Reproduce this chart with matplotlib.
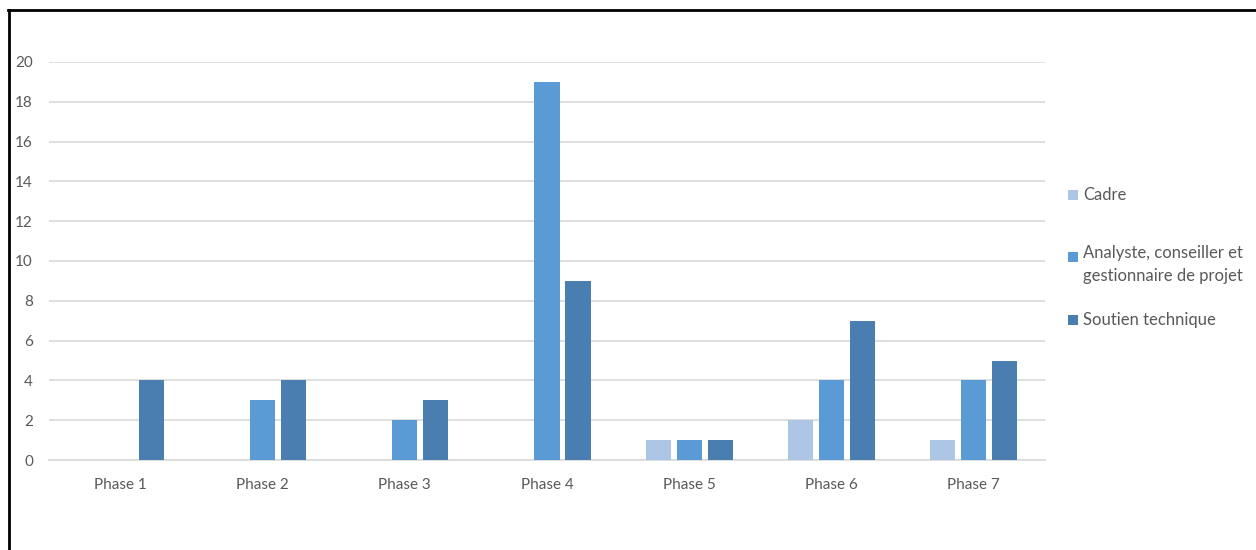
import matplotlib
matplotlib.use("Agg")
import matplotlib.pyplot as plt
from matplotlib.lines import Line2D
from matplotlib.patches import Rectangle
import numpy as np

phases = ["Phase 1", "Phase 2", "Phase 3", "Phase 4", "Phase 5", "Phase 6", "Phase 7"]
cadre = [0, 0, 0, 0, 1, 2, 1]
analyste = [0, 3, 2, 19, 1, 4, 4]
soutien = [4, 4, 3, 9, 1, 7, 5]
series_labels = ["Cadre", "Analyste, conseiller et\ngestionnaire de projet", "Soutien technique"]
yticks = [0, 2, 4, 6, 8, 10, 12, 14, 16, 18, 20]

colors = ["#ADC6E6", "#5B9BD5", "#4A7EB0"]
text_color = "#595959"
grid_color = "#D9D9D9"

plt.rcParams["font.family"] = ["Lato", "DejaVu Sans"]

W, H = 1256, 550
fig = plt.figure(figsize=(W / 100, H / 100), dpi=100)
ax = fig.add_axes([49 / W, 1 - 460 / H, (1045 - 49) / W, (460 - 62) / H])

x = np.arange(len(phases))
bw = 0.176
step = 0.218
for i, (vals, col, lab) in enumerate(zip([cadre, analyste, soutien], colors, series_labels)):
    ax.bar(x + (i - 1) * step, vals, width=bw, color=col, edgecolor="none",
           label=lab, zorder=3)

ax.set_xlim(-0.5, len(phases) - 0.5)
ax.set_ylim(0, 20)
ax.set_yticks(yticks)
ax.set_xticks(x)
ax.set_xticklabels(phases)
ax.yaxis.grid(True, color=grid_color, linewidth=1.2, zorder=0)
ax.set_axisbelow(True)
for side in ["top", "right", "left"]:
    ax.spines[side].set_visible(False)
ax.spines["bottom"].set_color(grid_color)
ax.spines["bottom"].set_linewidth(1.2)
ax.tick_params(axis="both", length=0, colors=text_color, labelsize=11)
ax.tick_params(axis="y", pad=11.5)
ax.tick_params(axis="x", pad=13)

# legend entries at the right of the plot area
def px(xp, yp):
    return xp / W, 1 - yp / H

legend_rows = [(195, 195, "center"), (257, 245, "top"), (320, 320, "center")]
sq = 10
for (ymark, ytext, va), col, lab in zip(legend_rows, colors, series_labels):
    x0, y0 = px(1068, ymark + sq / 2)
    fig.add_artist(Rectangle((x0, y0), sq / W, sq / H, transform=fig.transFigure,
                             facecolor=col, edgecolor="none"))
    tx, ty = px(1083, ytext)
    fig.text(tx, ty, lab, ha="left", va=va, fontsize=12, color=text_color,
             linespacing=1.55)

# outer frame (top and left edges)
fig.add_artist(Line2D([9 / W, 9 / W], [0, 1 - 10 / H], transform=fig.transFigure,
                      color="black", linewidth=2))
fig.add_artist(Line2D([8 / W, 1], [1 - 10 / H, 1 - 10 / H], transform=fig.transFigure,
                      color="black", linewidth=2))

fig.savefig("out.png", dpi=100)
